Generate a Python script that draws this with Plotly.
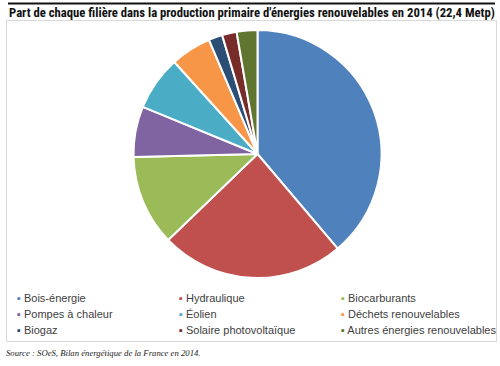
import plotly.graph_objects as go

labels = ["Bois-énergie", "Hydraulique", "Biocarburants",
          "Pompes à chaleur", "Éolien", "Déchets renouvelables",
          "Biogaz", "Solaire photovoltaïque", "Autres énergies renouvelables"]
values = [38.8, 24.0, 11.8, 6.6, 7.1, 5.3, 1.8, 1.9, 2.7]
colors = ["#4F81BD", "#C0504D", "#9BBB59", "#8064A2", "#4BACC6",
          "#F79646", "#2C4D75", "#772C2A", "#5F7530"]

title_text = "Part de chaque filière dans la production primaire d'énergies renouvelables en 2014 (22,4 Metp)"
source_text = "Source : SOeS, Bilan énergétique de la France en 2014."

W, H = 500, 366

def px(x):
    return x / W

def py(y):
    return 1 - y / H

cx, cy, r = 257.5, 154, 124

fig = go.Figure(go.Pie(
    labels=labels, values=values, sort=False,
    direction="clockwise", rotation=0,
    marker=dict(colors=colors, line=dict(color="white", width=2)),
    textinfo="none", hoverinfo="label+percent",
    showlegend=False,
    domain=dict(x=[px(cx - r), px(cx + r)], y=[py(cy + r), py(cy - r)]),
))

shapes = [
    dict(type="line", xref="paper", yref="paper", x0=px(8), x1=px(495), y0=py(3.5), y1=py(3.5),
         line=dict(color="#111111", width=2)),
    dict(type="rect", xref="paper", yref="paper", x0=px(6.5), x1=px(496.5), y0=py(20.5), y1=py(341.5),
         line=dict(color="#D9D9D9", width=1)),
]

annotations = [
    dict(text="<b>" + title_text + "</b>", x=px(7), y=py(12), xref="paper", yref="paper",
         xanchor="left", yanchor="middle", showarrow=False,
         font=dict(family="Liberation Sans Narrow, Arial Narrow, Roboto Condensed, Liberation Sans", size=12.7, color="#111111")),
    dict(text="<i>" + source_text + "</i>", x=px(4), y=py(353), xref="paper", yref="paper",
         xanchor="left", yanchor="middle", showarrow=False,
         font=dict(family="Liberation Serif", size=8.7, color="#222222")),
]

col_x = [17, 179, 341]
row_y = [298, 314, 330]
for i, (lab, col) in enumerate(zip(labels, colors)):
    c, rr = i % 3, i // 3
    annotations.append(dict(
        text=f"<span style='color:{col}'>▪</span> {lab}",
        x=px(col_x[c] - 2), y=py(row_y[rr]), xref="paper", yref="paper",
        xanchor="left", yanchor="middle", showarrow=False,
        font=dict(family="Liberation Sans, Arial", size=11, color="#404040")))

fig.update_layout(
    width=W, height=H, margin=dict(l=0, r=0, t=0, b=0),
    paper_bgcolor="white", plot_bgcolor="white",
    shapes=shapes, annotations=annotations,
)

fig.write_html("out.html", config={"displayModeBar": False},
               post_script="document.body.style.margin='0';document.body.style.overflow='hidden';")
